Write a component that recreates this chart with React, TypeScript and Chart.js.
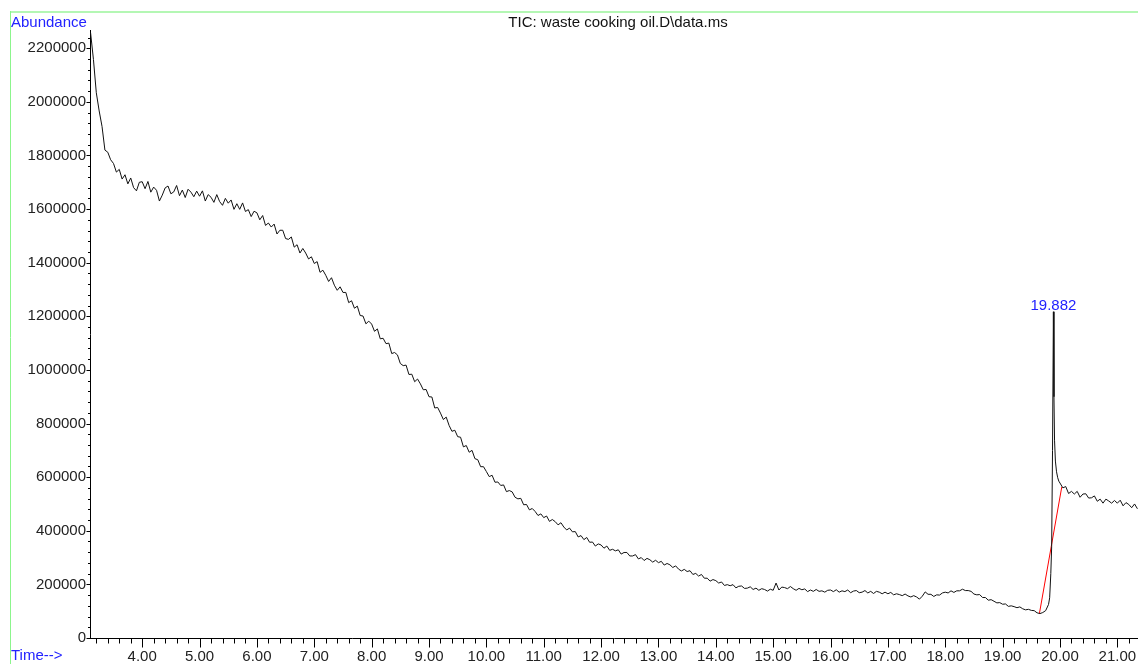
import { useEffect, useRef } from "react";
import { Chart, registerables } from "chart.js";

Chart.register(...registerables);

// ---- data (abundance in thousands) ----
const GRID_START = 3.1; // min
const GRID_STEP = 0.05; // min
const abundanceEarlyK = [
  2258, 2158, 2034, 1966, 1908, 1820, 1812, 1784, 1770, 1738, 1748, 1712, 1728, 1694, 1716, 1680, 1668, 1700,
  1702, 1676, 1703, 1663, 1682, 1670, 1630, 1652, 1679, 1686, 1657, 1664, 1688, 1650, 1671, 1643, 1674, 1663, 1646, 1667,
  1648, 1668, 1630, 1654, 1644, 1625, 1654, 1628, 1614, 1640, 1622, 1634, 1599, 1620, 1599, 1623, 1591, 1598, 1572, 1592,
  1586, 1560, 1576, 1539, 1548, 1533, 1544, 1507, 1521, 1521, 1490, 1487, 1496, 1458, 1467, 1436, 1453, 1436, 1414, 1422,
  1397, 1404, 1364, 1372, 1353, 1330, 1344, 1316, 1297, 1310, 1289, 1289, 1251, 1258, 1230, 1238, 1203, 1201, 1172, 1182,
  1171, 1144, 1153, 1116, 1118, 1098, 1100, 1061, 1065, 1056, 1024, 1016, 1018, 983, 984, 956, 966, 948, 926, 927,
  900, 899, 858, 860, 839, 815, 824, 793, 771, 775, 751, 749, 713, 718, 693, 700, 669, 665, 639, 639,
  621, 602, 607, 581, 582, 569, 571, 546, 550, 545, 525, 519, 521, 497, 498, 478, 483, 472, 457, 463,
  449, 455, 435, 442, 434, 422, 430, 414, 403, 410, 396, 397, 377, 382, 367, 375, 357, 358, 343, 351,
  347, 335, 343, 327, 331, 325, 329, 313, 319, 319, 306, 306, 311, 295, 300, 289, 297, 292, 283, 290,
  281, 286, 272, 278, 273, 263, 269, 257, 250, 256, 248, 251, 237, 241, 231, 237, 223, 223, 212, 218,
  214, 205, 209, 196, 199, 195, 199, 187, 193, 194, 185, 186, 191, 181, 186, 178, 184, 181, 175, 182,
  178, 205, 179, 190, 188, 184, 192, 184, 178, 185, 180, 183, 173, 179, 174, 181, 174, 176, 171, 178,
  179, 173, 180, 171, 176, 173, 179, 169, 175, 177, 169, 171, 177, 168, 174, 166, 174, 171, 165, 171,
  165, 170, 161, 165, 162, 158, 164, 157, 153, 158, 153, 145, 156, 172, 163, 163, 155, 161, 160, 168,
  171, 168, 176, 170, 176, 176, 182, 177, 177, 174, 164, 161, 162, 151, 151, 141, 143, 137, 131, 132,
  126, 127, 118, 120, 117, 113, 116, 109, 105, 107, 103, 102, 94, 91, 95, 102, 125,
];
const peakTimes = [19.82, 19.84, 19.855, 19.87, 19.885, 19.895, 19.905, 19.92, 19.94, 19.96, 19.98];
const peakAbundanceK = [150, 240, 340, 700, 1217, 900, 738, 660, 620, 598, 585];
const LATE_START = 20.0;
const abundanceLateK = [
  578, 560, 565, 539, 547, 537, 547, 525, 537, 538, 522, 523, 530, 510, 518, 503, 518, 511, 503, 513,
  503, 514, 493, 505, 498, 486, 500, 482,
];
const baselineTimes = [19.641, 20.031];
const baselineAbundance = [91000, 563600];

const peakLabel = "19.882";
const peakLabelTime = 19.885;
const peakLabelAbundance = 1217000;

const xMajorTicks = [4, 5, 6, 7, 8, 9, 10, 11, 12, 13, 14, 15, 16, 17, 18, 19, 20, 21];
const yMajorTicks = [0, 200000, 400000, 600000, 800000, 1000000, 1200000, 1400000, 1600000, 1800000, 2000000, 2200000];
const X_MIN = 3.09;
const X_MAX = 21.36;
const Y_MAX = 2268000;

const titleText = "TIC: waste cooking oil.D\\data.ms";
const yAxisTitle = "Abundance";
const xAxisTitle = "Time-->";

const FONT = "'Liberation Sans', Arial, Helvetica, sans-serif";

function buildSeries() {
  const pts: { x: number; y: number }[] = [];
  abundanceEarlyK.forEach((v, i) => pts.push({ x: +(GRID_START + i * GRID_STEP).toFixed(3), y: v * 1000 }));
  peakTimes.forEach((t, i) => pts.push({ x: t, y: peakAbundanceK[i] * 1000 }));
  abundanceLateK.forEach((v, i) => pts.push({ x: +(LATE_START + i * GRID_STEP).toFixed(3), y: v * 1000 }));
  return pts;
}

const decorPlugin = {
  id: "decor",
  afterDraw(chart: any) {
    const ctx = chart.ctx;
    const xs = chart.scales.x;
    const ys = chart.scales.y;
    const area = chart.chartArea;
    ctx.save();
    // green frame
    ctx.strokeStyle = "#b4f7b4";
    ctx.lineWidth = 2;
    ctx.beginPath();
    ctx.moveTo(10, 12);
    ctx.lineTo(chart.width, 12);
    ctx.stroke();
    ctx.strokeStyle = "#8cf58c";
    ctx.lineWidth = 1;
    ctx.beginPath();
    ctx.moveTo(10.5, 11);
    ctx.lineTo(10.5, chart.height);
    ctx.stroke();

    // tick marks
    ctx.strokeStyle = "#000";
    ctx.lineWidth = 1;
    ctx.beginPath();
    const bottom = Math.round(area.bottom) + 0.5;
    for (let k = 16; k <= 106; k++) {
      const v = k / 5;
      if (v < X_MIN || v > X_MAX) continue;
      const px = Math.round(xs.getPixelForValue(v)) + 0.5;
      const major = k % 5 === 0;
      ctx.moveTo(px, bottom);
      ctx.lineTo(px, bottom + (major ? 9 : 5));
    }
    const left = Math.round(area.left) + 0.5;
    for (let k = 0; k * 40000 <= Y_MAX; k++) {
      const v = k * 40000;
      const py = Math.round(ys.getPixelForValue(v)) + 0.5;
      const major = k % 5 === 0;
      ctx.moveTo(left, py);
      ctx.lineTo(left - (major ? 4 : 2.5), py);
    }
    ctx.stroke();

    // texts
    ctx.font = `15px ${FONT}`;
    ctx.textBaseline = "alphabetic";
    ctx.fillStyle = "#2222ff";
    ctx.textAlign = "left";
    ctx.fillText(yAxisTitle, 11, 27);
    ctx.fillText(xAxisTitle, 11, 660);
    ctx.textAlign = "center";
    ctx.fillText(peakLabel, xs.getPixelForValue(peakLabelTime), ys.getPixelForValue(peakLabelAbundance) - 2);
    ctx.fillStyle = "#111";
    ctx.fillText(titleText, 618, 27);
    ctx.restore();
  },
};

export default function App() {
  const ref = useRef<HTMLCanvasElement | null>(null);
  useEffect(() => {
    if (!ref.current) return;
    const chart = new Chart(ref.current, {
      type: "line",
      data: {
        datasets: [
          {
            data: buildSeries(),
            borderColor: "#111",
            borderWidth: 1,
            pointRadius: 0,
            tension: 0,
            fill: false,
          },
          {
            data: baselineTimes.map((t, i) => ({ x: t, y: baselineAbundance[i] })),
            borderColor: "#ff0000",
            borderWidth: 1,
            pointRadius: 0,
            tension: 0,
            fill: false,
          },
        ],
      },
      options: {
        animation: false,
        responsive: false,
        devicePixelRatio: 1,
        layout: { padding: { top: 30, left: 0, right: 0, bottom: 0 } },
        plugins: { legend: { display: false }, tooltip: { enabled: false }, title: { display: false } },
        scales: {
          x: {
            type: "linear",
            min: X_MIN,
            max: X_MAX,
            grid: { display: false, drawTicks: false },
            border: { display: true, color: "#000", width: 1 },
            afterBuildTicks: (s: any) => {
              s.ticks = xMajorTicks.map((v) => ({ value: v }));
            },
            afterFit: (s: any) => {
              s.height = 26;
              s.paddingLeft = 0;
              s.paddingRight = 0;
            },
            ticks: {
              autoSkip: false,
              maxRotation: 0,
              padding: 10,
              color: "#222",
              font: { family: FONT, size: 15 },
              callback: (v: any) => Number(v).toFixed(2),
            },
          },
          y: {
            type: "linear",
            min: 0,
            max: Y_MAX,
            grid: { display: false, drawTicks: false },
            border: { display: true, color: "#000", width: 1 },
            afterBuildTicks: (s: any) => {
              s.ticks = yMajorTicks.map((v) => ({ value: v }));
            },
            afterFit: (s: any) => {
              s.width = 90;
              s.paddingTop = 0;
              s.paddingBottom = 0;
            },
            ticks: {
              autoSkip: false,
              padding: 4,
              color: "#222",
              font: { family: FONT, size: 15 },
              callback: (v: any) => String(v),
            },
          },
        },
      },
      plugins: [decorPlugin],
    });
    return () => chart.destroy();
  }, []);
  return (
    <div style={{ position: "fixed", left: 0, top: 0, width: 1138, height: 664, background: "#fff" }}>
      <canvas ref={ref} width={1138} height={664} style={{ display: "block", width: 1138, height: 664 }} />
    </div>
  );
}
